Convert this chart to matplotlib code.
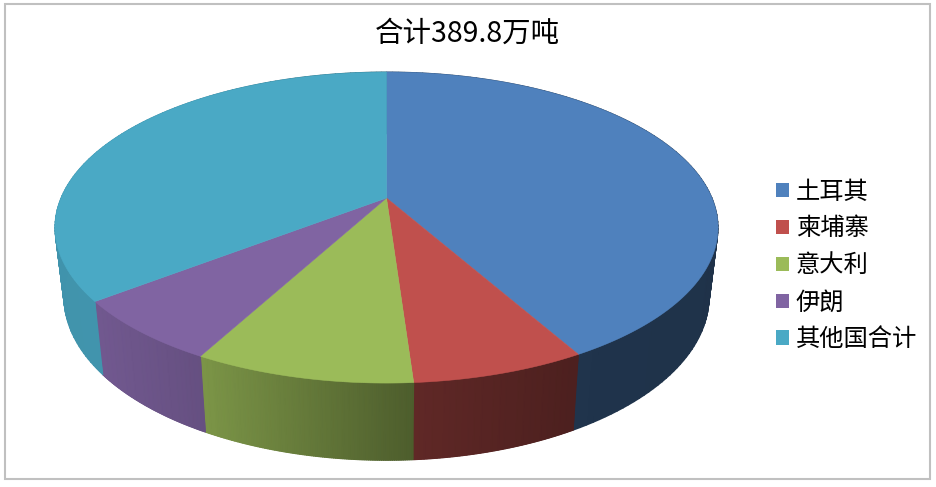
# -*- coding: utf-8 -*-
import numpy as np
from matplotlib import pyplot as plt
from matplotlib.colors import LinearSegmentedColormap
from matplotlib.patches import Patch, Rectangle

plt.rcParams['font.family'] = ['Noto Sans CJK SC', 'DejaVu Sans']

title = '合计389.8万吨'
countries = ['土耳其', '柬埔寨', '意大利', '伊朗', '其他国合计']
tons = [163.0, 27.7, 35.0, 25.9, 138.2]
colors = ['#4f81bd', '#c0504d', '#9bbb59', '#8064a2', '#4aa9c5']

# pie geometry in pixels, perspective of the tilted disc
cx, cy = 386.5, 198
a, b, k = 149.9, 325.5, 0.19


def top_xy(t):
    # t is the angle clockwise from 12 o'clock
    u, v = np.sin(t), np.cos(t)
    w = 1 + k * v
    return cx + b * u / w, cy - a * v / w


def base_xy(t):
    x, y = top_xy(t)
    return cx + 0.973 * (x - cx), cy + 1.05 * (y - cy) + 68


def shade(x):
    # wall gets darker from left to right
    return np.interp(x, [55, 100, 205, 413, 573, 718], [0.87, 0.88, 0.79, 0.50, 0.40, 0.39])


fig = plt.figure(figsize=(9.36, 4.87), dpi=100)
ax = fig.add_axes([0, 0, 1, 1])
ax.set_xlim(0, 936)
ax.set_ylim(487, 0)
ax.axis('off')

ax.add_patch(Rectangle((5, 4), 925, 475, fc='white', ec='#c0c0c0', lw=1.5))

edges = np.concatenate([[0], np.cumsum(tons)]) / np.sum(tons) * 2 * np.pi

# side walls first
for i in range(len(tons)):
    ts = np.linspace(edges[i], edges[i + 1], 120)
    x0, y0 = top_xy(ts)
    x1, y1 = base_xy(ts)
    cmap = LinearSegmentedColormap.from_list('wall', ['black', colors[i]])
    s = shade(x0)
    ax.pcolormesh(np.array([x0, x1]), np.array([y0, y1]), np.array([s, s]),
                  shading='gouraud', cmap=cmap, vmin=0, vmax=1, zorder=2)

# top faces over the walls
for i in range(len(tons)):
    ts = np.linspace(edges[i], edges[i + 1], 200)
    x, y = top_xy(ts)
    ax.fill(np.r_[cx, x], np.r_[cy, y], fc=colors[i], ec=colors[i], lw=0.4, zorder=3)

ax.text(467, 34, title, ha='center', va='center', fontsize=20.5, color='black')

handles = [Patch(fc=c, ec='none') for c in colors]
ax.legend(handles, countries, loc='center left', bbox_to_anchor=(0.829, 0.455),
          frameon=False, fontsize=17.5, labelspacing=0.45, handlelength=0.54,
          handleheight=0.54, handletextpad=0.27, borderpad=0, borderaxespad=0)

plt.savefig('out.png', dpi=100)
